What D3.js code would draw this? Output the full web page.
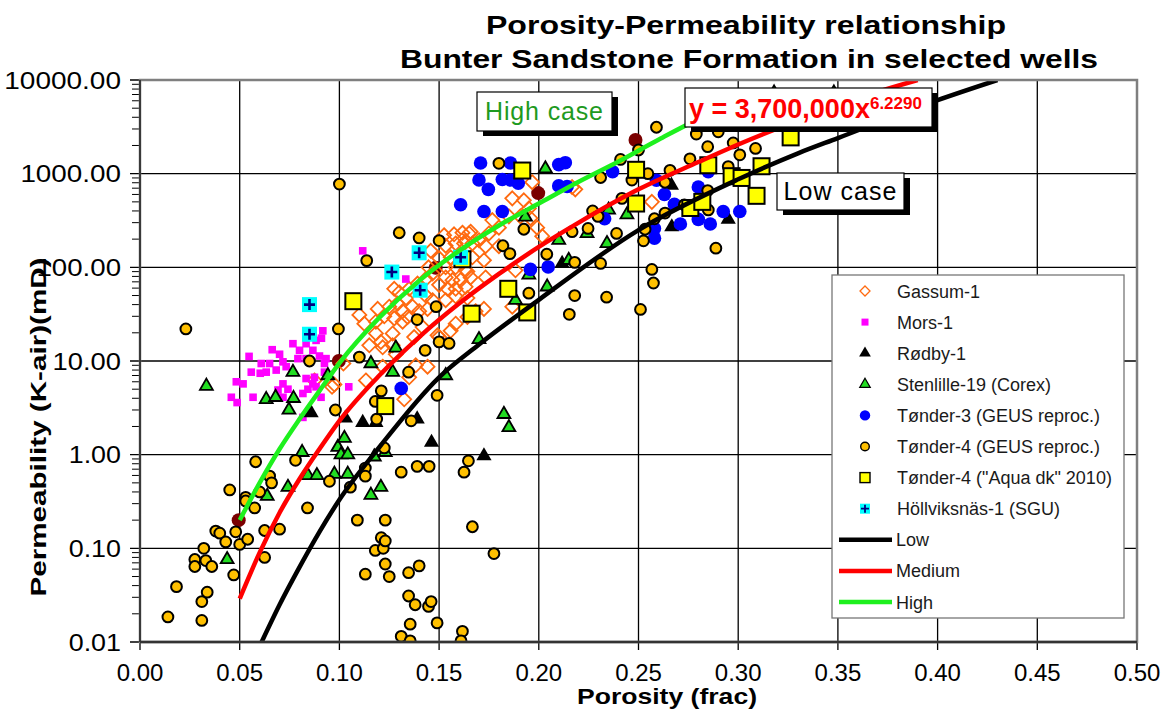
<!DOCTYPE html>
<html><head><meta charset="utf-8">
<script src="https://cdn.jsdelivr.net/npm/d3@7"></script>
<style>body{margin:0;background:#fff} text{font-family:"Liberation Sans",Arial,sans-serif}</style>
</head><body><svg id="c" width="1173" height="715"></svg>
<script>
// ---------- DATA ----------
const titleLines = ["Porosity-Permeability relationship", "Bunter Sandstone Formation in selected wells"];
const xLabel = "Porosity (frac)";
const yLabel = "Permeability (K-air)(mD)";
const xTicks = [0, 0.05, 0.10, 0.15, 0.20, 0.25, 0.30, 0.35, 0.40, 0.45, 0.50];
const yTicks = [0.01, 0.1, 1, 10, 100, 1000, 10000];

const gassum1 = [[0.0875,6.2],[0.0963,5.3],[0.0975,5.6],[0.102,9.4],[0.11,31],[0.1125,25],[0.1133,6.2],[0.115,14.7],[0.1183,26.3],[0.1183,19.7],[0.1192,36],[0.1208,16],[0.1217,14],[0.1217,8.7],[0.1225,30],[0.125,38],[0.1267,19.7],[0.1267,14.7],[0.1275,59],[0.1275,28.5],[0.1283,11.8],[0.1292,41],[0.13,54],[0.1317,34],[0.1317,26.3],[0.1325,3.9],[0.1333,47],[0.1342,29.5],[0.135,59],[0.135,6.7],[0.1367,38],[0.1375,18],[0.1383,9],[0.1392,67],[0.14,34],[0.1417,23],[0.1433,75],[0.1433,50],[0.1442,36],[0.1442,8.7],[0.1447,100],[0.1458,150],[0.1467,86],[0.1467,44.6],[0.1492,18.8],[0.15,125],[0.15,65],[0.15,18],[0.1525,220],[0.1533,170],[0.1533,100],[0.1533,78],[0.1533,44.6],[0.1542,59],[0.1558,128],[0.1558,21],[0.1567,73],[0.1575,225],[0.1583,180],[0.1583,100],[0.1583,59],[0.1583,49],[0.1583,25],[0.1608,73],[0.1617,234],[0.1625,180],[0.1633,190],[0.1633,62],[0.1633,93],[0.1642,90],[0.1642,47],[0.1642,29.5],[0.165,230],[0.1658,240],[0.1658,78],[0.1667,180],[0.1667,128],[0.1683,34],[0.17,195],[0.1725,119],[0.1725,36],[0.1733,168],[0.1733,78],[0.175,230],[0.1767,320],[0.18,265],[0.18,168],[0.185,350],[0.1867,545],[0.1867,38],[0.1883,93],[0.1908,350],[0.1925,520],[0.195,425],[0.1958,335],[0.1967,810],[0.1992,265],[0.2017,215],[0.2167,720],[0.2183,680],[0.2567,500]];
const mors1 = [[0.0458,4.1],[0.0483,6.0],[0.0487,3.6],[0.0517,5.7],[0.0547,11.2],[0.0558,7.6],[0.0567,4.1],[0.0603,7.4],[0.0608,9.4],[0.0633,7.6],[0.065,9.4],[0.0663,13.2],[0.0683,8.0],[0.0692,4.9],[0.07,11.8],[0.0717,9.8],[0.0717,5.7],[0.0717,4.1],[0.0733,8.7],[0.0742,5.0],[0.0767,15.3],[0.0792,10.6],[0.08,13],[0.0817,4.5],[0.0817,2.5],[0.0833,15.3],[0.0833,10.6],[0.0833,6.5],[0.0842,5.0],[0.0867,13],[0.0867,5.7],[0.0875,6.7],[0.0883,16.6],[0.0883,5.3],[0.09,11.3],[0.0908,4.1],[0.091,17.5],[0.0917,21],[0.0925,9.4],[0.0925,7.6],[0.0933,10.6],[0.1047,5.3],[0.1117,150],[0.1333,75]];
const rodby1 = [[0.0858,2.8],[0.103,2.45],[0.1117,2.2],[0.1183,2.2],[0.139,2.4],[0.1462,1.35],[0.1725,0.97],[0.2117,110],[0.2665,750],[0.2667,270],[0.295,325]];
const stenlille19 = [[0.0333,5.4],[0.0437,0.076],[0.0633,3.9],[0.0638,0.36],[0.068,4.1],[0.0742,0.45],[0.0747,3.0],[0.0767,7.6],[0.077,4.0],[0.0813,1.06],[0.0842,0.6],[0.0887,0.6],[0.0942,7.0],[0.0975,0.62],[0.0992,1.2],[0.1008,1.0],[0.1025,1.5],[0.1042,1.0],[0.1042,0.62],[0.1158,9.4],[0.1158,0.37],[0.1175,0.95],[0.1208,0.45],[0.123,1.06],[0.1267,7.6],[0.1283,13.8],[0.1533,7.0],[0.17,17],[0.1825,2.7],[0.185,1.95],[0.1883,44.6],[0.1933,345],[0.195,83],[0.2033,1130],[0.2042,62],[0.21,195],[0.215,119],[0.2242,230],[0.2342,180],[0.235,410],[0.2442,365],[0.318,7300],[0.348,7300]];
const tonder3 = [[0.131,5.1],[0.1608,465],[0.17,855],[0.1708,1300],[0.1725,395],[0.1747,680],[0.1817,865],[0.1817,395],[0.1858,1300],[0.1858,855],[0.1897,790],[0.1958,95],[0.2047,101],[0.21,1250],[0.21,740],[0.2133,1310],[0.2142,730],[0.233,330],[0.237,1050],[0.258,260],[0.258,205],[0.259,850],[0.263,600],[0.268,470],[0.271,290],[0.28,720],[0.28,325],[0.285,1050],[0.286,290],[0.2925,395],[0.3008,395]];
const tonder4Geus = [[0.014,0.0185],[0.0183,0.039],[0.023,22],[0.0275,0.076],[0.0275,0.064],[0.031,0.027],[0.031,0.017],[0.032,0.1],[0.033,0.074],[0.0337,0.034],[0.036,0.064],[0.038,0.153],[0.04,0.145],[0.043,0.117],[0.045,0.42],[0.047,0.052],[0.048,0.15],[0.05,0.11],[0.053,0.35],[0.053,0.32],[0.054,0.125],[0.0575,0.27],[0.058,0.84],[0.06,0.4],[0.0625,0.155],[0.0625,0.08],[0.065,0.59],[0.066,0.5],[0.07,0.16],[0.078,0.87],[0.084,0.27],[0.085,10],[0.095,0.52],[0.098,3.0],[0.0995,22],[0.1,775],[0.1055,0.45],[0.109,0.2],[0.11,11],[0.113,0.72],[0.113,0.59],[0.113,0.053],[0.1137,118],[0.118,3.7],[0.1187,2.4],[0.118,0.095],[0.121,4.8],[0.121,0.13],[0.1225,1.18],[0.122,0.1],[0.123,0.2],[0.123,0.12],[0.123,0.068],[0.125,0.05],[0.13,234],[0.131,0.65],[0.131,0.0115],[0.1347,7.6],[0.1347,0.055],[0.1347,0.031],[0.1355,0.0155],[0.1355,0.0103],[0.136,2.3],[0.138,0.025],[0.139,27.7],[0.139,0.75],[0.14,206],[0.14,0.065],[0.143,13],[0.1447,0.024],[0.145,0.75],[0.146,0.027],[0.1485,38],[0.149,4.3],[0.149,0.016],[0.15,193],[0.15,16],[0.155,15.4],[0.1617,0.013],[0.161,0.0103],[0.1625,0.65],[0.1647,0.86],[0.1667,0.17],[0.1775,0.088],[0.18,1290],[0.182,170],[0.1855,140],[0.1925,255],[0.195,53],[0.204,138],[0.2153,31.5],[0.2167,240],[0.218,113],[0.218,50],[0.2247,260],[0.227,400],[0.2297,350],[0.231,910],[0.231,110],[0.234,48],[0.239,230],[0.241,1420],[0.2417,545],[0.2467,855],[0.25,1790],[0.251,35.5],[0.2525,192],[0.2533,255],[0.2547,1000],[0.2567,95],[0.2575,68],[0.258,330],[0.259,3130],[0.2633,810],[0.2633,380],[0.2658,1085],[0.273,465],[0.2758,1440],[0.279,2650],[0.2847,1940],[0.2847,660],[0.285,410],[0.2888,160],[0.29,2800],[0.295,1190],[0.2975,2130],[0.3008,1590],[0.3087,1860]];
const tonder4Aqua = [[0.107,43.5],[0.123,3.3],[0.1617,122],[0.1663,32],[0.1847,59],[0.1917,1080],[0.1942,33],[0.2488,1100],[0.2488,480],[0.276,430],[0.282,500],[0.285,1230],[0.2967,940],[0.3017,900],[0.3092,580],[0.3117,1200],[0.3263,2440]];
const hollviksnas1 = [[0.085,40],[0.085,19.3],[0.1263,89],[0.14,143],[0.1405,57],[0.1608,128]];
const darkRedPoints = [[0.0495,0.2],[0.0997,10],[0.1483,99],[0.1997,620],[0.2485,2290]];

const lowCurve = [[0.061,0.01],[0.07,0.025],[0.08,0.063],[0.09,0.15],[0.1,0.33],[0.12,1.2],[0.15,6.7],[0.17,15],[0.2,45],[0.25,250],[0.3,870],[0.33,1650],[0.35,2400],[0.4,6100],[0.43,10000]];
const mediumCurve = [[0.05,0.029],[0.06,0.09],[0.07,0.24],[0.08,0.55],[0.09,1.15],[0.1,2.3],[0.12,7],[0.14,18],[0.16,41],[0.18,85],[0.2,165],[0.22,300],[0.25,680],[0.28,1330],[0.3,2050],[0.33,3700],[0.36,6400],[0.39,10000]];
const highCurve = [[0.05,0.2],[0.06,0.5],[0.07,1.15],[0.08,2.4],[0.09,4.8],[0.1,9.5],[0.12,29],[0.14,72],[0.16,150],[0.18,280],[0.2,480],[0.22,820],[0.24,1350],[0.26,2300],[0.28,3800],[0.3,5500]];

const seriesNames = ["Gassum-1","Mors-1","Rødby-1","Stenlille-19 (Corex)","Tønder-3 (GEUS reproc.)","Tønder-4 (GEUS reproc.)","Tønder-4 (\"Aqua dk\" 2010)","Höllviksnäs-1 (SGU)"];
const lineNames = ["Low","Medium","High"];

// ---------- CHART ----------
const svg = d3.select("#c");
const x = d3.scaleLinear().domain([0,0.5]).range([140,1137]);
const y = d3.scaleLog().domain([0.01,10000]).range([642,80]);

svg.append("defs").append("clipPath").attr("id","plotclip")
  .append("rect").attr("x",140).attr("y",80).attr("width",997).attr("height",562);

// grid
const grid = svg.append("g");
grid.selectAll(".vx").data(xTicks).join("line")
  .attr("x1",d=>x(d)).attr("x2",d=>x(d)).attr("y1",80).attr("y2",650)
  .attr("stroke","#000").attr("stroke-width",1.3);
grid.selectAll(".hy").data(yTicks).join("line")
  .attr("x1",130).attr("x2",1137).attr("y1",d=>y(d)).attr("y2",d=>y(d))
  .attr("stroke","#000").attr("stroke-width",1.3);
const minors=[];
for(let e=-2;e<4;e++) for(let k=2;k<10;k++) minors.push(k*Math.pow(10,e));
grid.selectAll(".mt").data(minors).join("line")
  .attr("x1",132).attr("x2",140).attr("y1",d=>y(d)).attr("y2",d=>y(d))
  .attr("stroke","#000").attr("stroke-width",1);

// points
const pts = svg.append("g").attr("clip-path","url(#plotclip)");
const px = d=>x(d[0]), py = d=>y(d[1]);

pts.selectAll(".dr").data(darkRedPoints).join("circle")
  .attr("cx",px).attr("cy",py).attr("r",7).attr("fill","#7a0000");

pts.selectAll(".gs").data(gassum1).join("path")
  .attr("d","M0,-7L7,0L0,7L-7,0Z")
  .attr("transform",d=>`translate(${px(d)},${py(d)})`)
  .attr("fill","none").attr("stroke","#ff6a10").attr("stroke-width",1.8);

pts.selectAll(".mo").data(mors1).join("rect")
  .attr("x",d=>px(d)-3.8).attr("y",d=>py(d)-3.8).attr("width",7.6).attr("height",7.6)
  .attr("fill","#ff00ff");

const tri = (s)=>d3.symbol().type(d3.symbolTriangle).size(s)();
pts.selectAll(".rd").data(rodby1).join("path")
  .attr("d",tri(100)).attr("transform",d=>`translate(${px(d)},${py(d)})`)
  .attr("fill","#000");

pts.selectAll(".st").data(stenlille19).join("path")
  .attr("d",tri(72)).attr("transform",d=>`translate(${px(d)},${py(d)})`)
  .attr("fill","#22dd22").attr("stroke","#000").attr("stroke-width",1.8);

pts.selectAll(".t3").data(tonder3).join("circle")
  .attr("cx",px).attr("cy",py).attr("r",6.8).attr("fill","#0000ff");

pts.selectAll(".t4").data(tonder4Geus).join("circle")
  .attr("cx",px).attr("cy",py).attr("r",5.4).attr("fill","#ffc000")
  .attr("stroke","#000").attr("stroke-width",2);

pts.selectAll(".aq").data(tonder4Aqua).join("rect")
  .attr("x",d=>px(d)-8).attr("y",d=>py(d)-8).attr("width",16).attr("height",16)
  .attr("fill","#ffff00").attr("stroke","#000").attr("stroke-width",2);

const hv = pts.selectAll(".hv").data(hollviksnas1).join("g")
  .attr("transform",d=>`translate(${px(d)},${py(d)})`);
hv.append("rect").attr("x",-7.5).attr("y",-7.5).attr("width",15).attr("height",15).attr("fill","#00ffff");
hv.append("path").attr("d","M-5.5,0H5.5M0,-5.5V5.5").attr("stroke","#000080").attr("stroke-width",2.6);

// curves
const lineGen = d3.line().x(px).y(py).curve(d3.curveMonotoneX);
const curves = svg.append("g").attr("clip-path","url(#plotclip)");
curves.append("path").datum(lowCurve).attr("d",lineGen).attr("fill","none").attr("stroke","#000").attr("stroke-width",4.5);
curves.append("path").datum(mediumCurve).attr("d",lineGen).attr("fill","none").attr("stroke","#ff0000").attr("stroke-width",4.5);
curves.append("path").datum(highCurve).attr("d",lineGen).attr("fill","none").attr("stroke","#1ef01e").attr("stroke-width",4.5);

// plot border
svg.append("rect").attr("x",140).attr("y",80).attr("width",997).attr("height",562)
  .attr("fill","none").attr("stroke","#7f7f7f").attr("stroke-width",2.5);
svg.append("line").attr("x1",140).attr("x2",140).attr("y1",80).attr("y2",642).attr("stroke","#222").attr("stroke-width",1.5);
svg.append("line").attr("x1",140).attr("x2",1137).attr("y1",642).attr("y2",642).attr("stroke","#333").attr("stroke-width",2.5);

// tick labels
const fmt2 = d3.format(".2f");
svg.append("g").selectAll("text").data(xTicks).join("text")
  .attr("x",d=>x(d)).attr("y",681).attr("text-anchor","middle")
  .attr("font-size",24).attr("fill","#000").text(d=>fmt2(d));
svg.append("g").selectAll("text").data(yTicks).join("text")
  .attr("x",121).attr("y",d=>y(d)+8.5).attr("text-anchor","end")
  .attr("font-size",24).attr("fill","#000")
  .attr("textLength",d=>16.1*(fmt2(d).length-1)+4).attr("lengthAdjust","spacingAndGlyphs")
  .text(d=>fmt2(d));

// titles
svg.append("text").attr("x",746).attr("y",34).attr("text-anchor","middle")
  .attr("font-size",25).attr("font-weight","bold").attr("textLength",520).attr("lengthAdjust","spacingAndGlyphs").text(titleLines[0]);
svg.append("text").attr("x",749).attr("y",68).attr("text-anchor","middle")
  .attr("font-size",25).attr("font-weight","bold").attr("textLength",698).attr("lengthAdjust","spacingAndGlyphs").text(titleLines[1]);
svg.append("text").attr("x",667).attr("y",704).attr("text-anchor","middle")
  .attr("font-size",22).attr("font-weight","bold").attr("textLength",180).attr("lengthAdjust","spacingAndGlyphs").text(xLabel);
svg.append("text").attr("transform","translate(46,427) rotate(-90)").attr("text-anchor","middle")
  .attr("font-size",22).attr("font-weight","bold").attr("textLength",339).attr("lengthAdjust","spacingAndGlyphs").text(yLabel);

// annotation boxes
function box(x0,y0,w,h){
  svg.append("rect").attr("x",x0+6).attr("y",y0+5).attr("width",w).attr("height",h).attr("fill","#000");
  svg.append("rect").attr("x",x0).attr("y",y0).attr("width",w).attr("height",h).attr("fill","#fff").attr("stroke","#000").attr("stroke-width",1.2);
}
box(477,92,135,39);
svg.append("text").attr("x",544).attr("y",120).attr("text-anchor","middle").attr("font-size",25)
  .attr("fill","#1f9a1f").attr("textLength",118).attr("lengthAdjust","spacing").text("High case");
box(685,88,247,39);
const eq = svg.append("text").attr("x",689).attr("y",118).attr("font-size",27).attr("font-weight","bold").attr("fill","#ff0000");
eq.append("tspan").text("y = 3,700,000x");
eq.append("tspan").attr("font-size",17).attr("dy",-9).text("6.2290");
box(777,173,127,37);
svg.append("text").attr("x",840).attr("y",200).attr("text-anchor","middle").attr("font-size",25)
  .attr("fill","#000").attr("textLength",113).attr("lengthAdjust","spacing").text("Low case");

// legend
const lg = svg.append("g");
lg.append("rect").attr("x",832).attr("y",275).attr("width",292).attr("height",343).attr("fill","#fff").attr("stroke","#777").attr("stroke-width",1.3);
const ly = i=>291+i*31.1;
const allNames = seriesNames.concat(lineNames);
lg.selectAll(".lt").data(allNames).join("text")
  .attr("x",(d,i)=>i<8?897:896).attr("y",(d,i)=>ly(i)+6.5).attr("font-size",18).attr("fill","#1a1a1a").text(d=>d);
const mx=865;
lg.append("path").attr("d","M0,-5L5,0L0,5L-5,0Z").attr("transform",`translate(${mx},${ly(0)})`).attr("fill","none").attr("stroke","#ff6a10").attr("stroke-width",1.3);
lg.append("rect").attr("x",mx-3.5).attr("y",ly(1)-3.5).attr("width",7).attr("height",7).attr("fill","#ff00ff");
lg.append("path").attr("d",tri(60)).attr("transform",`translate(${mx},${ly(2)})`).attr("fill","#000");
lg.append("path").attr("d",tri(48)).attr("transform",`translate(${mx},${ly(3)})`).attr("fill","#22dd22").attr("stroke","#000").attr("stroke-width",1.2);
lg.append("circle").attr("cx",mx).attr("cy",ly(4)).attr("r",5.2).attr("fill","#0000ff");
lg.append("circle").attr("cx",mx).attr("cy",ly(5)).attr("r",4.3).attr("fill","#ffc000").attr("stroke","#000").attr("stroke-width",1.4);
lg.append("rect").attr("x",mx-5).attr("y",ly(6)-5).attr("width",10).attr("height",10).attr("fill","#ffff00").attr("stroke","#000").attr("stroke-width",1.4);
lg.append("rect").attr("x",mx-5).attr("y",ly(7)-5).attr("width",10).attr("height",10).attr("fill","#00ffff");
lg.append("path").attr("d",`M${mx-4},${ly(7)}H${mx+4}M${mx},${ly(7)-4}V${ly(7)+4}`).attr("stroke","#000080").attr("stroke-width",1.8);
const lcols=["#000","#ff0000","#1ef01e"];
lcols.forEach((c,k)=>{
  lg.append("line").attr("x1",839).attr("x2",892).attr("y1",ly(8+k)).attr("y2",ly(8+k)).attr("stroke",c).attr("stroke-width",4.5);
});
</script></body></html>
